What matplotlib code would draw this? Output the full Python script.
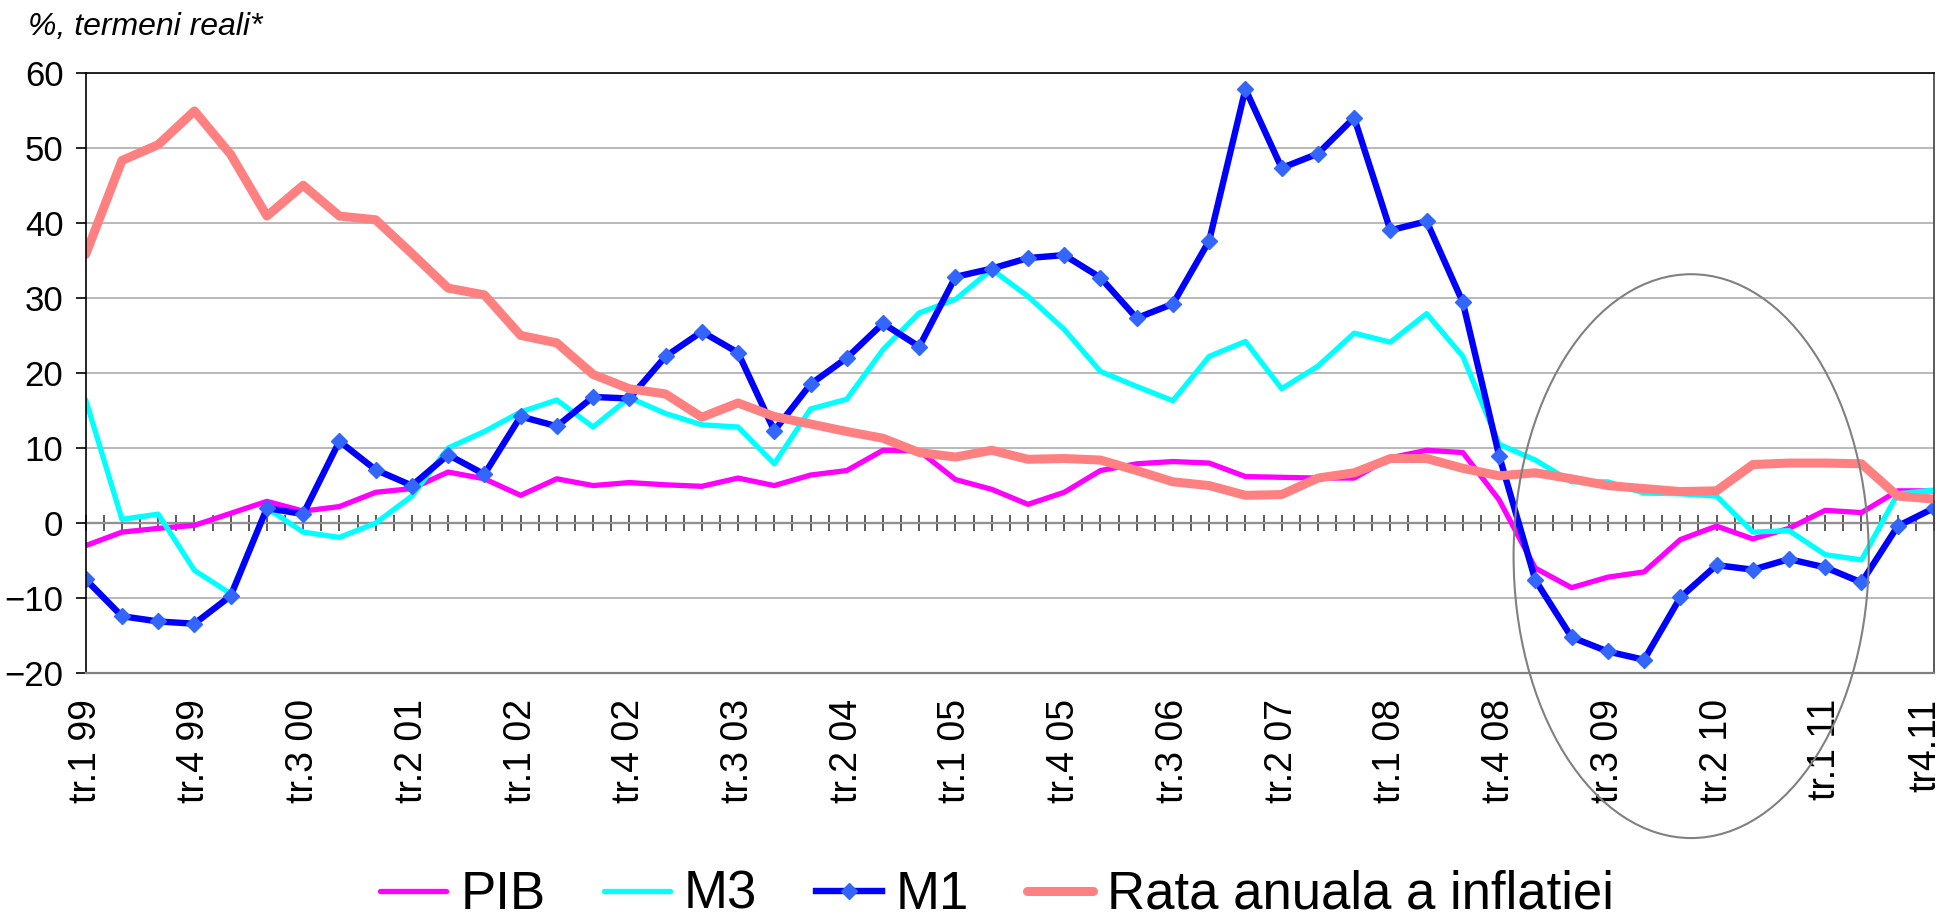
import numpy as np
import matplotlib
matplotlib.use('Agg')
import matplotlib.pyplot as plt
import matplotlib.transforms as mtransforms
from matplotlib.patches import Ellipse

plt.rcParams['font.family'] = ['Liberation Sans', 'DejaVu Sans']

#quarterly data, tr.1 99 .. tr.4 11
quarters = np.arange(52)
tick_idx = list(range(0, 52, 3))
tick_labels = ['tr.1 99', 'tr.4 99', 'tr.3 00', 'tr.2 01', 'tr.1 02', 'tr.4 02',
               'tr.3 03', 'tr.2 04', 'tr.1 05', 'tr.4 05', 'tr.3 06', 'tr.2 07',
               'tr.1 08', 'tr.4 08', 'tr.3 09', 'tr.2 10', 'tr.1 11', 'tr4.11']

pib = [-3.0, -1.2, -0.7, -0.3, 1.3, 2.9, 1.6, 2.2, 4.1, 4.6, 6.8, 5.9, 3.7,
       5.9, 5.0, 5.4, 5.1, 4.9, 6.0, 5.0, 6.4, 7.0, 9.7, 9.6, 5.8, 4.5,
       2.5, 4.1, 7.0, 7.9, 8.2, 8.0, 6.2, 6.1, 6.0, 6.0, 8.7, 9.7, 9.4,
       3.1, -6.0, -8.6, -7.2, -6.5, -2.2, -0.4, -2.1, -0.7, 1.7, 1.4, 4.3, 4.3]

m3 = [16.4, 0.5, 1.2, -6.3, -9.4, 2.0, -1.2, -1.9, 0.0, 3.6, 10.0, 12.2, 14.8,
      16.4, 12.8, 16.7, 14.6, 13.1, 12.8, 7.9, 15.2, 16.5, 23.1, 28.0, 29.8, 33.8,
      30.2, 25.8, 20.2, 18.2, 16.3, 22.2, 24.2, 17.9, 20.9, 25.3, 24.1, 27.9, 22.2,
      10.5, 8.4, 5.5, 5.5, 4.0, 3.9, 3.6, -1.2, -1.0, -4.2, -4.9, 3.9, 4.4]

m1 = [-7.5, -12.4, -13.1, -13.4, -9.7, 2.0, 1.2, 10.9, 7.1, 5.0, 9.1, 6.5, 14.2,
      12.9, 16.8, 16.6, 22.2, 25.5, 22.7, 12.3, 18.5, 22.0, 26.6, 23.5, 32.8, 33.9,
      35.3, 35.7, 32.7, 27.3, 29.2, 37.6, 57.8, 47.3, 49.2, 54.0, 39.0, 40.2, 29.4,
      9.0, -7.6, -15.2, -17.1, -18.2, -9.9, -5.6, -6.2, -4.8, -5.9, -7.9, -0.4, 2.0]

inflatie = [35.8, 48.3, 50.4, 54.9, 49.1, 40.9, 45.0, 40.9, 40.4, 35.9, 31.3, 30.4, 25.0,
            24.0, 19.8, 17.9, 17.2, 14.1, 16.0, 14.2, 13.2, 12.2, 11.3, 9.4, 8.8, 9.7,
            8.5, 8.6, 8.4, 7.0, 5.5, 5.0, 3.7, 3.8, 6.0, 6.7, 8.6, 8.6, 7.3,
            6.3, 6.7, 5.9, 5.0, 4.6, 4.2, 4.3, 7.8, 8.0, 8.0, 7.9, 3.6, 3.2]

ymin, ymax = -20, 60

#////////////////////////////////////////////////////////////////////////////
fig = plt.figure(figsize=(19.48, 9.17), dpi=100)
ax = fig.add_axes([0.0440, 0.2658, 0.9488, 0.6550])

ax.plot(quarters, pib, color='#FF00FF', lw=3.8, label='PIB', solid_capstyle='round')
ax.plot(quarters, m3, color='#00FFFF', lw=3.8, label='M3', solid_capstyle='round')
ax.plot(quarters, m1, color='#0000FF', lw=4.6, marker='D', ms=8,
        mfc='#3366FF', mec='#3366FF', mew=1, label='M1')
ax.plot(quarters, inflatie, color='#FF8080', lw=6.5, label='Rata anuala a inflatiei',
        solid_capstyle='round')

ax.set_xlim(0, 51)
ax.set_ylim(ymin, ymax)

#y axis
ax.set_yticks(range(ymin, ymax + 1, 10))
ax.tick_params(axis='y', direction='out', length=7, width=1.2, pad=9, labelsize=25)
ax.yaxis.grid(True, color='#A6A6A6', lw=1.1)
ax.set_axisbelow(True)

#category labels at the bottom, no ticks there
ax.set_xticks(tick_idx, tick_labels, rotation=90)
ax.tick_params(axis='x', length=0, pad=18.5, labelsize=27)
#last label sits right on the figure edge, nudge it inside
last = ax.get_xticklabels()[-1]
last.set_transform(last.get_transform() +
                   mtransforms.ScaledTranslation(-9 / 100, 0, fig.dpi_scale_trans))

#category axis line crossing at 0, with ticks
zero_ax = ax.secondary_xaxis((0 - ymin) / (ymax - ymin))
zero_ax.set_xticks(np.arange(0, 51.01, 0.5))
zero_ax.tick_params(direction='inout', length=12, width=1.2, color='#404040',
                    labelbottom=False, labeltop=False)
zero_ax.spines['bottom'].set_color('#505050')
zero_ax.spines['bottom'].set_linewidth(1.6)

ax.spines['top'].set_color('black')
ax.spines['left'].set_color('black')
ax.spines['right'].set_color('#404040')
ax.spines['bottom'].set_color('#808080')
for s in ['top', 'left', 'right']:
    ax.spines[s].set_linewidth(1.2)
ax.spines['bottom'].set_linewidth(1.6)

#highlight of the crisis period
ax.add_patch(Ellipse((44.3, -4.4), 9.8, 75.1, fill=False, ec='#808080', lw=1.5,
                     clip_on=False, zorder=6))

fig.text(28 / 1948, 1 - 35 / 917, '%, termeni reali*', fontsize=23, style='italic',
         ha='left', va='baseline')

fig.legend(loc='center', bbox_to_anchor=(0.512, 0.024), ncol=4, frameon=False,
           fontsize=38, handlelength=1.25, handletextpad=0.27, columnspacing=1.1,
           numpoints=1)

fig.savefig('out.png', dpi=100)
